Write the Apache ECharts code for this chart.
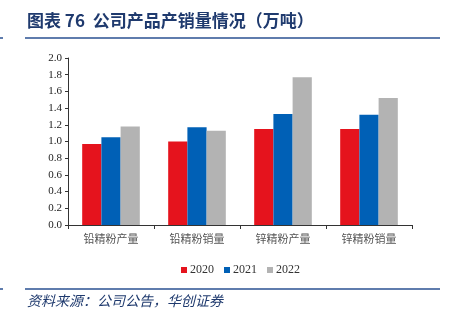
<!DOCTYPE html>
<html>
<head>
<meta charset="utf-8">
<script src="https://cdn.jsdelivr.net/npm/echarts@6/dist/echarts.min.js"></script>
<style>
  html, body { margin: 0; padding: 0; background: #fff; }
  #chart { width: 456px; height: 322px; }
</style>
</head>
<body>
<div id="chart"></div>
<script>
// Product output and sales volume (10k tonnes)
const categories = ['铅精粉产量', '铅精粉销量', '锌精粉产量', '锌精粉销量'];
const years = ['2020', '2021', '2022'];
const values2020 = [0.97, 1.00, 1.15, 1.15];
const values2021 = [1.05, 1.17, 1.33, 1.32];
const values2022 = [1.18, 1.13, 1.77, 1.52];
const yTicks = { min: 0, max: 2.0, interval: 0.2 };

const colors = ['#e5131d', '#0060b6', '#b3b3b3'];
const seriesValues = [values2020, values2021, values2022];
const serif = '"Liberation Serif", "Times New Roman", serif';
const cjk = '"Noto Sans CJK SC", sans-serif';
const navy = '#1f3a6e';

const chart = echarts.init(document.getElementById('chart'), null, { renderer: 'canvas' });

chart.setOption({
  animation: false,
  backgroundColor: '#ffffff',
  color: colors,
  grid: { left: 68, right: 44, top: 58, bottom: 97, containLabel: false },
  legend: {
    data: years,
    top: 259,
    left: 176,
    itemWidth: 6,
    itemHeight: 6,
    itemGap: 10,
    icon: 'rect',
    textStyle: { fontFamily: serif, fontSize: 12, color: '#333', padding: [0, 0, 0, -2] }
  },
  xAxis: {
    type: 'category',
    data: categories,
    axisLine: { lineStyle: { color: '#333', width: 1 } },
    axisTick: { show: true, length: 4, alignWithLabel: false, lineStyle: { color: '#333' } },
    axisLabel: { fontFamily: cjk, fontSize: 11, color: '#555', margin: 8 }
  },
  yAxis: {
    type: 'value',
    min: yTicks.min,
    max: yTicks.max,
    interval: yTicks.interval,
    axisLine: { show: true, lineStyle: { color: '#333', width: 1 } },
    axisTick: { show: true, length: 3, lineStyle: { color: '#333' } },
    splitLine: { show: false },
    axisLabel: {
      fontFamily: serif, fontSize: 11, color: '#222', margin: 6,
      formatter: v => v.toFixed(1)
    }
  },
  series: years.map((y, i) => ({
    name: y,
    type: 'bar',
    data: seriesValues[i],
    barGap: '0%',
    barCategoryGap: '33%',
    itemStyle: { color: colors[i] }
  })),
  graphic: [
    {
      type: 'text', left: 27, top: 12,
      style: {
        text: '图表 76  公司产品产销量情况（万吨）',
        font: 'bold 17px "Noto Sans CJK SC", sans-serif',
        fill: navy
      }
    },
    { type: 'line', shape: { x1: 25, y1: 38, x2: 440, y2: 38 }, style: { stroke: '#2a5192', lineWidth: 1.5 } },
    { type: 'line', shape: { x1: 0, y1: 38, x2: 3, y2: 38 }, style: { stroke: '#2a5192', lineWidth: 1.5 } },
    { type: 'line', shape: { x1: 25, y1: 289, x2: 440, y2: 289 }, style: { stroke: '#2a5192', lineWidth: 1.5 } },
    { type: 'line', shape: { x1: 0, y1: 289, x2: 3, y2: 289 }, style: { stroke: '#2a5192', lineWidth: 1.5 } },
    {
      type: 'text', left: 27, top: 294,
      style: {
        text: '资料来源：公司公告，华创证券',
        font: 'italic 14px "Noto Sans CJK SC", sans-serif',
        fill: navy
      }
    }
  ]
});
</script>
</body>
</html>
